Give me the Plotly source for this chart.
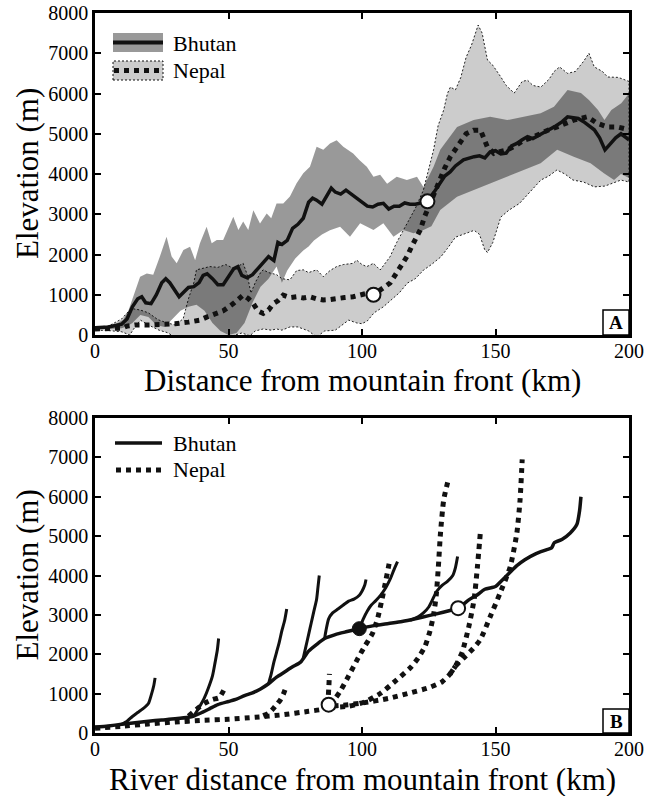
import plotly.graph_objects as go

# ---------------- Panel A: swath profiles (mean and range) ----------------
bhutan_mean_x = [0, 5, 10, 12, 14, 16, 17.5, 19, 21, 23, 25, 26.5, 28, 30, 31.5, 33, 35, 37, 39, 40.5,
                 42, 44, 46, 48, 50, 52, 53.5, 55, 57, 59, 61, 63, 65, 67, 68.5, 70, 72, 74, 76, 78,
                 80, 81.5, 83, 85, 87, 88.5, 90, 92, 94, 96, 98, 100, 102, 104, 106, 108, 110, 112,
                 114, 116, 118, 120, 122, 124.5, 127, 129, 131, 133, 135, 138, 140, 142, 144, 146,
                 148, 150, 152, 154, 156, 158, 160, 162, 164, 167, 170, 172, 175, 177, 179, 181, 183,
                 185, 187, 189, 191, 193, 195, 197, 200]
bhutan_mean_y = [180, 200, 270, 400, 700, 900, 950, 800, 780, 1000, 1300, 1400, 1300, 1100, 950, 1050,
                 1180, 1200, 1300, 1480, 1520, 1400, 1250, 1250, 1450, 1650, 1700, 1480, 1420, 1500,
                 1650, 1800, 1950, 1850, 2300, 2250, 2350, 2650, 2750, 2900, 3300, 3400, 3350, 3250,
                 3500, 3650, 3550, 3500, 3600, 3500, 3380, 3300, 3200, 3180, 3250, 3270, 3130, 3200,
                 3200, 3280, 3250, 3250, 3280, 3320, 3550, 3770, 3950, 4050, 4200, 4350, 4400, 4430,
                 4450, 4400, 4550, 4580, 4500, 4520, 4700, 4760, 4850, 4930, 4880, 5000, 5100, 5170,
                 5300, 5420, 5400, 5380, 5300, 5200, 5100, 4900, 4600, 4750, 4900, 5000, 4850]

bhutan_upper_x = [0, 5, 8, 10.6, 12.5, 14.4, 16.9, 19.4, 21.8, 24.3, 26.8, 28.7, 30.6, 33.1, 35.6, 37.5,
                  39.3, 41.8, 43.7, 45.6, 48, 51.8, 53.7, 55.5, 57.4, 59.3, 61.8, 64.3, 66, 68, 70.5,
                  73, 75.5, 78, 80.5, 83, 85.5, 88, 90.5, 93, 96.7, 99, 101.8, 104.3, 106.8, 109.4,
                  113, 116.8, 120.6, 123, 126.8, 129.3, 133, 135.6, 141.8, 148, 154.4, 160.6, 166.9,
                  171.9, 177, 182, 185, 188.4, 190.8, 193.4, 197.1, 200]
bhutan_upper_y = [200, 230, 280, 380, 600, 950, 1450, 1530, 1500, 1950, 2440, 1950, 1780, 2110, 2190,
                  1860, 2280, 2690, 2280, 2360, 2360, 2940, 2610, 2820, 2610, 3100, 2770, 3020, 2900,
                  3270, 3270, 3440, 3770, 4020, 4180, 4680, 4600, 4760, 4840, 4680, 4510, 4350, 4180,
                  3930, 3980, 3760, 3930, 3850, 3930, 3680, 4180, 4600, 4930, 5170, 5340, 5420, 5340,
                  5420, 5510, 5670, 6090, 6010, 5840, 5590, 5340, 5590, 5760, 6000]

bhutan_lower_x = [0, 5, 10, 12, 14, 17, 20, 23, 26, 29, 32, 35, 38, 41, 44, 47, 50, 53, 56, 59, 62, 65,
                  68, 70, 72, 75, 78, 80, 82, 85, 88, 91.8, 95.5, 99.3, 104.3, 108, 111.8, 115.5,
                  119.3, 123, 126, 129.3, 135.6, 141.8, 148, 154.4, 160.6, 166.9, 173.1, 179.3, 185.6,
                  190.6, 194.4, 197, 200]
bhutan_lower_y = [140, 150, 170, 220, 300, 500, 450, 250, 200, 400, 600, 700, 750, 600, 300, 100, 0, 50,
                  300, 800, 1200, 1400, 1700, 1300, 1600, 1900, 2100, 2200, 2350, 2500, 2600, 2690,
                  2440, 2775, 2610, 2775, 2440, 2610, 2530, 2610, 2700, 3105, 3435, 3600, 3770, 3930,
                  4100, 4270, 4600, 4430, 4270, 4020, 3850, 4000, 3900]

nepal_mean_x = [0, 5, 10, 12, 15, 20, 25, 30, 35, 39.3, 42, 45.6, 48, 51.8, 53.5, 55.5, 57.5, 59.3, 61,
                63, 65, 66.8, 68.5, 70.5, 73, 75.5, 78, 80.5, 83, 85.5, 88, 90.5, 93.5, 96.7, 99.3,
                101.8, 104.3, 107, 110.5, 113.5, 116.8, 119, 121.8, 123.5, 125.5, 127.5, 129.3, 131,
                133.1, 135, 136.8, 139, 141.8, 144.4, 146.9, 149.4, 152, 154.4, 157.5, 160.6, 163.5,
                166.9, 170, 173.1, 176, 179.3, 182, 184.3, 186, 188.1, 191.9, 195.6, 200]
nepal_mean_y = [150, 150, 170, 220, 250, 250, 260, 280, 320, 370, 450, 535, 600, 780, 880, 990, 900, 780,
                600, 535, 620, 780, 850, 990, 930, 950, 920, 950, 900, 870, 880, 910, 930, 950, 980,
                1035, 1000, 1120, 1290, 1600, 1945, 2250, 2610, 2950, 3270, 3600, 3930, 4150, 4430,
                4600, 4760, 5000, 5090, 5090, 4680, 4510, 4560, 4600, 4700, 4840, 4900, 5010, 5100,
                5170, 5250, 5340, 5380, 5420, 5350, 5260, 5170, 5170, 5100]

nepal_upper_x = [0, 5, 10, 12, 14.4, 17, 20, 23.6, 27, 30, 33, 35, 37, 38, 40, 43, 46, 49, 52, 55.5, 57,
                 58.4, 60, 62, 63, 65, 68, 70, 73, 75.5, 78, 80, 83, 85.5, 88, 90.5, 93, 96.7, 98, 100,
                 101.8, 104.3, 106.8, 110.5, 113, 116.8, 120, 123, 125, 126.8, 128.5, 130.6, 132,
                 133.1, 135, 137, 139, 141, 143.5, 145, 147, 149, 152, 154, 157, 160, 162, 164, 167,
                 170, 172, 174, 177, 180, 183, 185, 187, 190, 192, 196, 200]
nepal_upper_y = [200, 220, 400, 550, 650, 620, 550, 380, 300, 250, 400, 900, 1300, 1620, 1650, 1700, 1680,
                 1750, 1650, 1780, 1500, 1040, 1300, 1550, 1620, 1550, 1500, 1400, 1370, 1600, 1620,
                 1550, 1620, 1450, 1600, 1700, 1750, 1780, 1860, 1750, 1700, 1780, 1615, 1945, 2300,
                 2775, 3150, 3600, 4100, 4600, 5200, 5590, 6000, 6160, 6090, 6400, 6900, 7200, 7700,
                 7500, 6830, 6700, 6410, 6200, 6010, 6300, 6330, 6200, 6160, 6350, 6550, 6660, 6500,
                 6550, 6800, 7000, 6660, 6550, 6410, 6400, 6300]

nepal_lower_x = [0, 5, 10, 13, 15, 17, 20, 24, 27, 30, 35, 40, 45, 50, 55, 58, 60, 63, 66, 68, 70, 73, 76,
                 80, 83, 86, 90, 95, 98, 100, 102, 104.5, 108, 111, 114, 117, 120, 123, 126, 129.5,
                 132, 135, 138, 142, 144, 146, 147, 149, 152, 155, 159, 163, 167, 170, 173, 176, 179,
                 183, 187, 191, 194, 197, 200]
nepal_lower_y = [120, 110, 80, 0, 200, 370, 250, 120, 60, -50, -50, -50, -50, -50, 50, -20, 100, 150, 120,
                 150, 120, 200, 200, 100, -50, 100, 120, 370, 300, 280, 350, 550, 700, 870, 1050, 1290,
                 1400, 1610, 1750, 1940, 2150, 2430, 2500, 2600, 2500, 2110, 2050, 2300, 2930, 3100,
                 3270, 3550, 3850, 3950, 4100, 4000, 3850, 3800, 3680, 3700, 3770, 3850, 3800]

# open circles on the mean profiles
swath_point_x = [104.3, 124.5]
swath_point_y = [1000, 3320]

# ---------------- Panel B: river long profiles ----------------
bhutan_rivers = {
    "trunk": ([0, 5, 10, 15, 20, 25, 30, 35, 37, 40, 43, 46, 50, 53, 56, 59, 62, 65, 68, 71, 74, 77, 80,
               83, 86, 90, 94, 99, 104, 110, 115, 120, 125, 130, 136, 140, 143, 146, 150, 152, 155,
               158, 161, 165, 169, 171, 172, 175, 178, 180.5, 181.5, 182],
              [150, 180, 220, 260, 300, 330, 360, 400, 430, 520, 620, 720, 800, 860, 950, 1020, 1120,
               1250, 1420, 1550, 1680, 1800, 2080, 2250, 2400, 2500, 2570, 2650, 2720, 2780, 2830,
               2900, 2980, 3060, 3170, 3380, 3500, 3650, 3720, 3850, 4050, 4250, 4400, 4550, 4650,
               4700, 4830, 4920, 5080, 5300, 5650, 6000]),
    "t1": ([10, 12, 14, 16, 18, 20, 21, 22, 22.5], [220, 300, 420, 520, 620, 750, 950, 1200, 1400]),
    "t2": ([37, 39, 41, 42.5, 44, 45, 45.8, 46.3], [430, 650, 900, 1150, 1450, 1800, 2100, 2400]),
    "t3": ([65, 66, 67, 68, 69, 70, 71, 71.8], [1250, 1500, 1800, 2050, 2300, 2600, 2850, 3150]),
    "t4": ([78, 79, 80, 81, 82, 83, 83.5, 84], [1900, 2200, 2500, 2800, 3100, 3400, 3700, 4000]),
    "t5": ([86, 86.5, 87.5, 89, 91, 93, 95, 97, 99, 100, 101, 101.5],
           [2400, 2600, 2900, 3050, 3150, 3250, 3350, 3400, 3500, 3600, 3750, 3900]),
    "t6": ([99, 100.5, 102, 103.5, 105, 107, 109, 110.5, 112, 113.3],
           [2650, 2900, 3100, 3250, 3350, 3500, 3700, 3900, 4150, 4350]),
    "t7": ([118, 121, 123, 125, 126.5, 128, 130, 132, 134, 135, 135.8],
           [2860, 2950, 3050, 3200, 3400, 3600, 3750, 3850, 4000, 4200, 4480]),
}

nepal_rivers = {
    "trunk": ([0, 10, 20, 30, 40, 50, 60, 70, 80, 85, 88, 92, 100, 110, 117, 125, 130, 133, 135],
              [120, 170, 230, 280, 320, 350, 400, 460, 550, 600, 680, 700, 760, 880, 1000, 1150, 1300,
               1500, 1700]),
    "n_a": ([88, 90, 92, 95, 98.5, 101, 104, 106, 107.5, 109, 110.3],
            [720, 880, 1080, 1450, 1900, 2200, 2540, 2950, 3400, 3900, 4350]),
    "n_b": ([88, 95, 101, 107, 113, 118, 121, 123.6, 125.5, 126.8, 127.8, 128.6, 129.4, 130.6, 132.3],
            [650, 680, 790, 1010, 1350, 1650, 1900, 2200, 2600, 3000, 3500, 4220, 5080, 5920, 6430]),
    "n_c": ([133, 135, 137.5, 140, 142, 143.2, 144.4], [1500, 1700, 2050, 2700, 3400, 4200, 5150]),
    "n_d": ([135, 138, 141, 144.2, 148, 151.7, 155.5, 158, 159.2, 160],
            [1700, 1900, 2100, 2360, 2950, 3550, 4220, 5080, 5920, 6950]),
    "n_e": ([35, 38, 41, 44, 46.5, 48.3], [430, 600, 750, 850, 900, 1100]),
    "n_f": ([63, 65, 66.5, 68, 69.5, 70.5, 71.3], [440, 500, 600, 720, 850, 980, 1120]),
    "n_g": ([87.3, 87.4, 87.6, 87.8], [720, 950, 1200, 1500]),
}

river_open_x = [87.5, 136]
river_open_y = [720, 3170]
river_filled_x = [99]
river_filled_y = [2650]

x_ticks = [0, 50, 100, 150, 200]
y_ticks = [0, 1000, 2000, 3000, 4000, 5000, 6000, 7000, 8000]

SERIF = "Liberation Serif, Times New Roman, serif"
W, H = 646, 796


def px(x):
    return x / W


def py(y):
    return 1 - y / H


fig = go.Figure()

# --- Panel A bands ---
fig.add_trace(go.Scatter(
    x=nepal_upper_x + nepal_lower_x[::-1], y=nepal_upper_y + nepal_lower_y[::-1],
    fill="toself", fillcolor="rgba(0,0,0,0.2)",
    line=dict(color="rgba(0,0,0,0.85)", width=1, dash="2px,2px"),
    mode="lines", hoverinfo="skip", showlegend=False, xaxis="x", yaxis="y"))
fig.add_trace(go.Scatter(
    x=bhutan_upper_x + bhutan_lower_x[::-1], y=bhutan_upper_y + bhutan_lower_y[::-1],
    fill="toself", fillcolor="rgba(0,0,0,0.4)", line=dict(width=0),
    mode="lines", hoverinfo="skip", showlegend=False, xaxis="x", yaxis="y"))

# --- Panel A mean profiles ---
fig.add_trace(go.Scatter(x=nepal_mean_x, y=nepal_mean_y, mode="lines",
                         line=dict(color="#111", width=5, dash="5px,5px"),
                         showlegend=False, xaxis="x", yaxis="y"))
fig.add_trace(go.Scatter(x=bhutan_mean_x, y=bhutan_mean_y, mode="lines",
                         line=dict(color="#111", width=3.5),
                         showlegend=False, xaxis="x", yaxis="y"))
fig.add_trace(go.Scatter(x=swath_point_x, y=swath_point_y, mode="markers",
                         marker=dict(size=14, color="white", line=dict(color="#111", width=2)),
                         showlegend=False, xaxis="x", yaxis="y"))

# --- Panel B river profiles ---
for name, (xs, ys) in nepal_rivers.items():
    fig.add_trace(go.Scatter(x=xs, y=ys, mode="lines",
                             line=dict(color="#111", width=5, dash="5px,5px", shape="spline", smoothing=0.6),
                             showlegend=False, xaxis="x2", yaxis="y2"))
for name, (xs, ys) in bhutan_rivers.items():
    fig.add_trace(go.Scatter(x=xs, y=ys, mode="lines",
                             line=dict(color="#111", width=3.5 if name == "trunk" else 3,
                                       shape="spline", smoothing=0.6),
                             showlegend=False, xaxis="x2", yaxis="y2"))
fig.add_trace(go.Scatter(x=river_open_x, y=river_open_y, mode="markers",
                         marker=dict(size=14, color="white", line=dict(color="#111", width=2)),
                         showlegend=False, xaxis="x2", yaxis="y2"))
fig.add_trace(go.Scatter(x=river_filled_x, y=river_filled_y, mode="markers",
                         marker=dict(size=14, color="#111", line=dict(color="#111", width=1)),
                         showlegend=False, xaxis="x2", yaxis="y2"))

axis_common = dict(showline=True, linewidth=2.5, linecolor="black", mirror="ticks",
                   ticks="inside", ticklen=6, tickwidth=2, tickcolor="black",
                   showgrid=False, zeroline=False, automargin=False,
                   tickfont=dict(family=SERIF, size=20, color="black"))
xdom = [px(95), px(629)]

fig.update_layout(
    template="none",
    width=W, height=H, autosize=False,
    margin=dict(l=0, r=0, t=0, b=0, pad=0),
    paper_bgcolor="white", plot_bgcolor="white",
    xaxis=dict(domain=xdom, range=[0, 200], tickvals=x_ticks, anchor="y",
               ticklabelstandoff=-4, **axis_common),
    yaxis=dict(domain=[py(335), py(13)], range=[0, 8000], tickvals=y_ticks, anchor="x", **axis_common),
    xaxis2=dict(domain=xdom, range=[0, 200], tickvals=x_ticks, anchor="y2",
                ticklabelstandoff=-4, **axis_common),
    yaxis2=dict(domain=[py(733), py(418)], range=[0, 8000], tickvals=y_ticks, anchor="x2", **axis_common),
)

shapes = []
annotations = []

# axis titles
for (ytitle_c, xtitle_y, xtitle) in [((13 + 335) / 2, 381, "Distance from mountain front (km)"),
                                     ((418 + 733) / 2, 779, "River distance from mountain front (km)")]:
    annotations.append(dict(x=px(27), y=py(ytitle_c), xref="paper", yref="paper",
                            text="Elevation (m)", textangle=-90, showarrow=False,
                            font=dict(family=SERIF, size=31, color="black"),
                            xanchor="center", yanchor="middle"))
    annotations.append(dict(x=px(362), y=py(xtitle_y), xref="paper", yref="paper",
                            text=xtitle, showarrow=False,
                            font=dict(family=SERIF, size=31, color="black"),
                            xanchor="center", yanchor="middle"))

# panel letters
for letter, top, bot in [("A", 310, 335), ("B", 709, 733)]:
    shapes.append(dict(type="rect", xref="paper", yref="paper",
                       x0=px(603), x1=px(629), y0=py(bot), y1=py(top),
                       line=dict(color="black", width=1.5), fillcolor="white"))
    annotations.append(dict(x=px(616), y=py((top + bot) / 2), xref="paper", yref="paper",
                            text="<b>%s</b>" % letter, showarrow=False,
                            font=dict(family=SERIF, size=19, color="black"),
                            xanchor="center", yanchor="middle"))

# legend, panel A
shapes.append(dict(type="rect", xref="paper", yref="paper", x0=px(113), x1=px(163),
                   y0=py(52), y1=py(33), line=dict(width=0), fillcolor="rgb(153,153,153)"))
shapes.append(dict(type="line", xref="paper", yref="paper", x0=px(113), x1=px(163),
                   y0=py(42.5), y1=py(42.5), line=dict(color="#111", width=4)))
shapes.append(dict(type="rect", xref="paper", yref="paper", x0=px(113), x1=px(163),
                   y0=py(80), y1=py(61), line=dict(color="#111", width=1, dash="2px,2px"),
                   fillcolor="rgb(204,204,204)"))
shapes.append(dict(type="line", xref="paper", yref="paper", x0=px(114), x1=px(163),
                   y0=py(70.5), y1=py(70.5), line=dict(color="#111", width=5, dash="5px,5px")))

# legend, panel B
shapes.append(dict(type="line", xref="paper", yref="paper", x0=px(115), x1=px(162),
                   y0=py(443), y1=py(443), line=dict(color="#111", width=3.5)))
shapes.append(dict(type="line", xref="paper", yref="paper", x0=px(116), x1=px(162),
                   y0=py(470), y1=py(470), line=dict(color="#111", width=5, dash="5px,5px")))

for ty, label in [(43, "Bhutan"), (71, "Nepal"), (443, "Bhutan"), (470, "Nepal")]:
    annotations.append(dict(x=px(171), y=py(ty), xref="paper", yref="paper", text=label,
                            showarrow=False, xanchor="left", yanchor="middle",
                            font=dict(family=SERIF, size=22, color="black")))

fig.update_layout(shapes=shapes, annotations=annotations)
fig.write_html("out.html")
